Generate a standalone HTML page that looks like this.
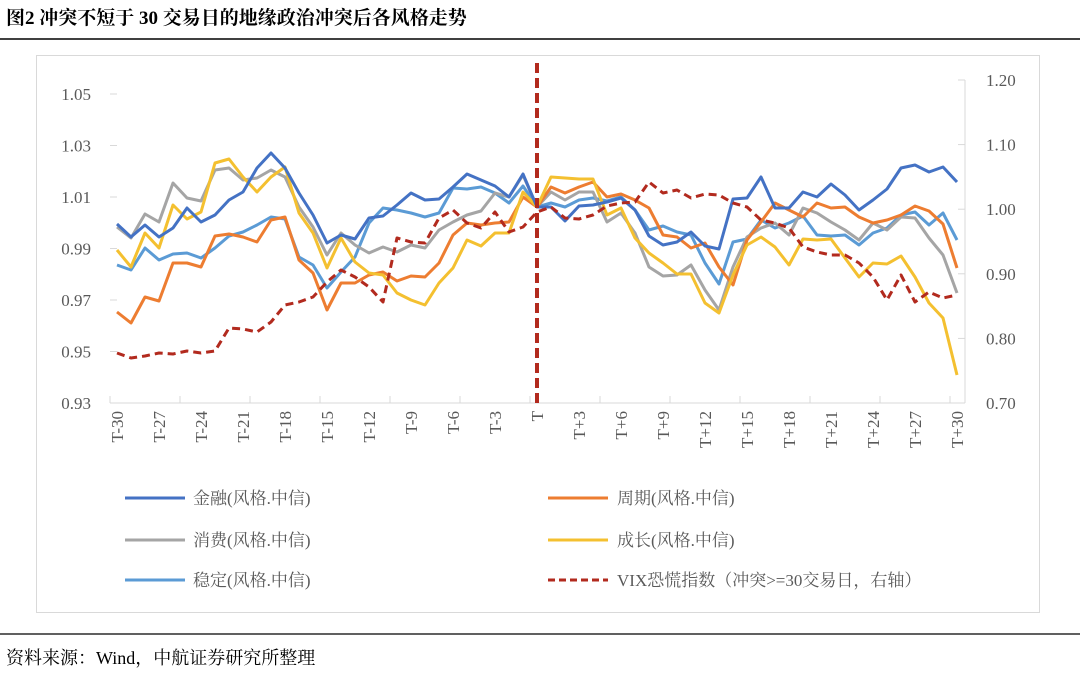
<!DOCTYPE html>
<html><head><meta charset="utf-8"><style>
body{margin:0;width:1080px;height:676px;background:#fff;overflow:hidden;font-family:"Liberation Serif","Noto Serif CJK SC",serif;}
</style></head><body>
<svg id="s" width="1080" height="676" xmlns="http://www.w3.org/2000/svg" font-family="Liberation Serif, Noto Serif CJK SC, serif">
<text x="6" y="24" font-size="19" font-weight="bold" fill="#000" font-family="Liberation Serif, Noto Serif CJK SC, serif">图2  冲突不短于 30 交易日的地缘政治冲突后各风格走势</text>
<line x1="0" y1="39" x2="1080" y2="39" stroke="#000" stroke-width="1.5"/>
<rect x="36.5" y="55.5" width="1003" height="557" fill="none" stroke="#d9d9d9"/>
<line x1="0" y1="634" x2="1080" y2="634" stroke="#000" stroke-width="1.2"/>
<text x="6" y="664" font-size="18" fill="#000">资料来源：Wind，中航证券研究所整理</text>
<g id="ax" stroke="#d9d9d9" stroke-width="1" fill="none"></g>
<g id="lbl" font-size="17" fill="#595959"></g>
<g id="ser" fill="none" stroke-width="3" stroke-linejoin="round"></g>
<line x1="537" y1="63" x2="537" y2="403" stroke="#b22a1e" stroke-width="4" stroke-dasharray="10,5"/>
<g font-size="17" fill="#595959">
<line x1="125" y1="498" x2="185" y2="498" stroke="#4472c4" stroke-width="3"/><text x="193" y="504">金融(风格.中信)</text>
<line x1="548" y1="498" x2="608" y2="498" stroke="#ed7d31" stroke-width="3"/><text x="617" y="504">周期(风格.中信)</text>
<line x1="125" y1="540" x2="185" y2="540" stroke="#a5a5a5" stroke-width="3"/><text x="193" y="546">消费(风格.中信)</text>
<line x1="548" y1="540" x2="608" y2="540" stroke="#f4c030" stroke-width="3"/><text x="617" y="546">成长(风格.中信)</text>
<line x1="125" y1="580" x2="185" y2="580" stroke="#5b9bd5" stroke-width="3"/><text x="193" y="586">稳定(风格.中信)</text>
<line x1="548" y1="580" x2="608" y2="580" stroke="#b22a1e" stroke-width="3" stroke-dasharray="7,4"/><text x="617" y="586">VIX恐慌指数（冲突&gt;=30交易日，右轴）</text>
</g>
</svg>
<script>
var NS="http://www.w3.org/2000/svg";
function el(p,t,a,txt){var e=document.createElementNS(NS,t);for(var k in a)e.setAttribute(k,a[k]);if(txt!=null)e.textContent=txt;document.getElementById(p).appendChild(e);return e;}
// axes
el("ax","line",{x1:110,y1:403,x2:965,y2:403});
el("ax","line",{x1:965,y1:80,x2:965,y2:403});
for(var i=0;i<=12;i++){var x=110+70*i;if(x>965)x=965;el("ax","line",{x1:x,y1:396,x2:x,y2:403});}
var L=["1.05","1.03","1.01","0.99","0.97","0.95","0.93"];
for(var i=0;i<7;i++){var y=94+51.5*i;el("lbl","text",{x:91,y:y+6,"text-anchor":"end"},L[i]);el("ax","line",{x1:110,y1:y,x2:117,y2:y});}
var R=["1.20","1.10","1.00","0.90","0.80","0.70"];
for(var i=0;i<6;i++){var y=80+64.6*i;el("lbl","text",{x:986,y:y+6},R[i]);el("ax","line",{x1:958,y1:y,x2:965,y2:y});}
for(var k=-30;k<=30;k+=3){var x=117+14*(k+30);var t=k==0?"T":(k<0?"T"+k:"T+"+k);
el("lbl","text",{x:0,y:0,transform:"translate("+(x+6)+",411) rotate(-90)","text-anchor":"end"},t);}
var D={
"#4472c4":[224,237,225,237,228,208,222,215,200,192,168,153,168,193,215,243,235,239,218,216,205,193,200,199,187,174,180,186,197,174,207,207,221,206,205,202,198,210,236,245,242,232,246,249,199,198,177,208,208,192,197,184,195,210,200,189,168,165,172,167,182],
"#ed7d31":[312,323,297,301,263,263,267,236,234,237,242,220,217,260,273,310,283,283,275,272,281,276,277,263,235,223,225,223,222,197,207,187,193,187,182,197,194,200,208,235,237,248,243,267,285,240,222,203,210,217,203,208,207,217,223,220,215,206,211,224,268],
"#a5a5a5":[227,238,214,222,183,198,201,170,168,180,178,170,177,207,227,255,233,245,253,247,252,245,248,230,222,215,211,193,197,175,207,192,200,192,192,222,213,233,267,276,275,265,290,310,267,237,228,223,235,208,213,222,230,240,223,230,217,218,238,255,293],
"#f4c030":[250,267,233,248,205,219,212,163,159,177,192,177,167,213,233,268,238,262,273,275,293,300,305,283,268,240,246,233,233,192,207,177,178,179,179,215,208,238,253,263,274,274,303,313,275,245,237,247,265,239,240,239,258,277,263,264,256,277,303,318,375],
"#5b9bd5":[265,270,248,260,254,253,258,248,236,232,225,217,219,257,265,288,272,257,223,208,210,213,217,213,188,189,187,193,203,186,207,203,207,200,198,201,197,210,230,226,232,235,263,284,242,239,220,228,223,216,235,236,235,245,233,228,215,212,225,213,240]};
var order=["#5b9bd5","#a5a5a5","#ed7d31","#f4c030","#4472c4"];
order.forEach(function(c){var p=D[c].map(function(y,i){return (117+14*i)+","+y;}).join(" ");el("ser","polyline",{points:p,stroke:c});});
var V=[353,358,356,353,354,351,353,351,328,329,332,322,305,302,297,282,270,277,287,302,238,242,243,218,210,223,228,212,232,227,212,207,218,219,215,206,203,202,182,193,190,198,194,195,203,207,220,223,228,247,252,255,255,263,277,300,275,302,292,298,295];
el("ser","polyline",{points:V.map(function(y,i){return (117+14*i)+","+y;}).join(" "),stroke:"#b22a1e","stroke-dasharray":"8,5"});
</script>
</body></html>
